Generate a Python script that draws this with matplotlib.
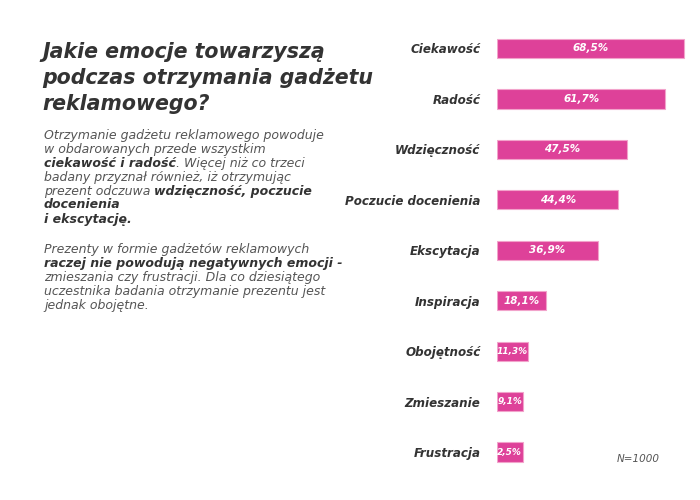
import matplotlib
matplotlib.use("Agg")
import matplotlib.pyplot as plt

categories = ["Ciekawość", "Radość", "Wdzięczność", "Poczucie docenienia",
              "Ekscytacja", "Inspiracja", "Obojętność", "Zmieszanie", "Frustracja"]
values = [68.5, 61.7, 47.5, 44.4, 36.9, 18.1, 11.3, 9.1, 2.5]
value_labels = ["68,5%", "61,7%", "47,5%", "44,4%", "36,9%", "18,1%", "11,3%", "9,1%", "2,5%"]
MIN_BAR = 9.4  # minimum drawn width so the label fits

title_lines = ["Jakie emocje towarzyszą", "podczas otrzymania gadżetu", "reklamowego?"]
body_lines = [
    [("Otrzymanie gadżetu reklamowego powoduje", False)],
    [("w obdarowanych przede wszystkim", False)],
    [("ciekawość i radość", True), (". Więcej niż co trzeci", False)],
    [("badany przyznał również, iż otrzymując", False)],
    [("prezent odczuwa", False), (" ", False), ("wdzięczność, poczucie", True)],
    [("docenienia", True)],
    [("i ekscytację.", True)],
    None,
    [("Prezenty w formie gadżetów reklamowych", False)],
    [("raczej nie powodują negatywnych emocji -", True)],
    [("zmieszania czy frustracji. Dla co dziesiątego", False)],
    [("uczestnika badania otrzymanie prezentu jest", False)],
    [("jednak obojętne.", False)],
]
note = "N=1000"

PINK = "#DE4199"
DARK = "#333333"
GREY = "#555555"
FONT = "DejaVu Sans"

W, H = 700, 500
fig = plt.figure(figsize=(7, 5), dpi=100)
fig.patch.set_facecolor("white")

# Bars axes
left_px, right_px = 497, 497 + 2.73 * 70
top_px, bot_px = 23.25, 477.25
ax = fig.add_axes([left_px / W, 1 - bot_px / H, (right_px - left_px) / W, (bot_px - top_px) / H])
ypos = list(range(len(categories)))
widths = [max(v, MIN_BAR) for v in values]
ax.barh(ypos, widths, height=0.38, color=PINK, edgecolor="#F2A3CB", linewidth=0.8)
for y, v, w, lab in zip(ypos, values, widths, value_labels):
    ax.text(w / 2, y, lab, ha="center", va="center", color="white",
            fontsize=7.5 if v >= 15 else 6.5, fontweight="bold", fontstyle="italic",
            family=FONT)
ax.set_xlim(0, 70)
ax.set_ylim(len(categories) - 0.5, -0.5)
ax.set_yticks(ypos)
ax.set_yticklabels(categories, fontsize=8.6, fontweight="bold", fontstyle="italic",
                   family=FONT, color=DARK)
ax.tick_params(axis="y", length=0, pad=12)
ax.set_xticks([])
for s in ax.spines.values():
    s.set_visible(False)

# Title
title_y = [52, 78, 103.5]
for line, yy in zip(title_lines, title_y):
    fig.text(42 / W, 1 - yy / H, line, fontsize=14.8, fontweight="bold",
             fontstyle="italic", family=FONT, color=DARK, va="center", ha="left")

# Body text with mixed weights
renderer = fig.canvas.get_renderer()
line_y = [135, 149.3, 163, 177, 191, 205, 219, None, 250, 264, 277.5, 291.5, 305]
fs = 9
for segs, yy in zip(body_lines, line_y):
    if segs is None:
        continue
    x = 44
    for txt, bold in segs:
        if txt == " ":
            probe1 = fig.text(0, 0, "x x", fontsize=fs, family=FONT, fontstyle="italic")
            probe2 = fig.text(0, 0, "xx", fontsize=fs, family=FONT, fontstyle="italic")
            x += probe1.get_window_extent(renderer).width - probe2.get_window_extent(renderer).width
            probe1.remove(); probe2.remove()
            continue
        t = fig.text(x / W, 1 - yy / H, txt, fontsize=fs, family=FONT, fontstyle="italic",
                     fontweight="bold" if bold else "normal",
                     color=DARK if bold else GREY, va="center", ha="left")
        x += t.get_window_extent(renderer).width

fig.text(617 / W, 1 - 459 / H, note, fontsize=7.5, fontstyle="italic", family=FONT,
         color=GREY, va="center", ha="left")

fig.savefig("out.png", dpi=100, facecolor="white")
